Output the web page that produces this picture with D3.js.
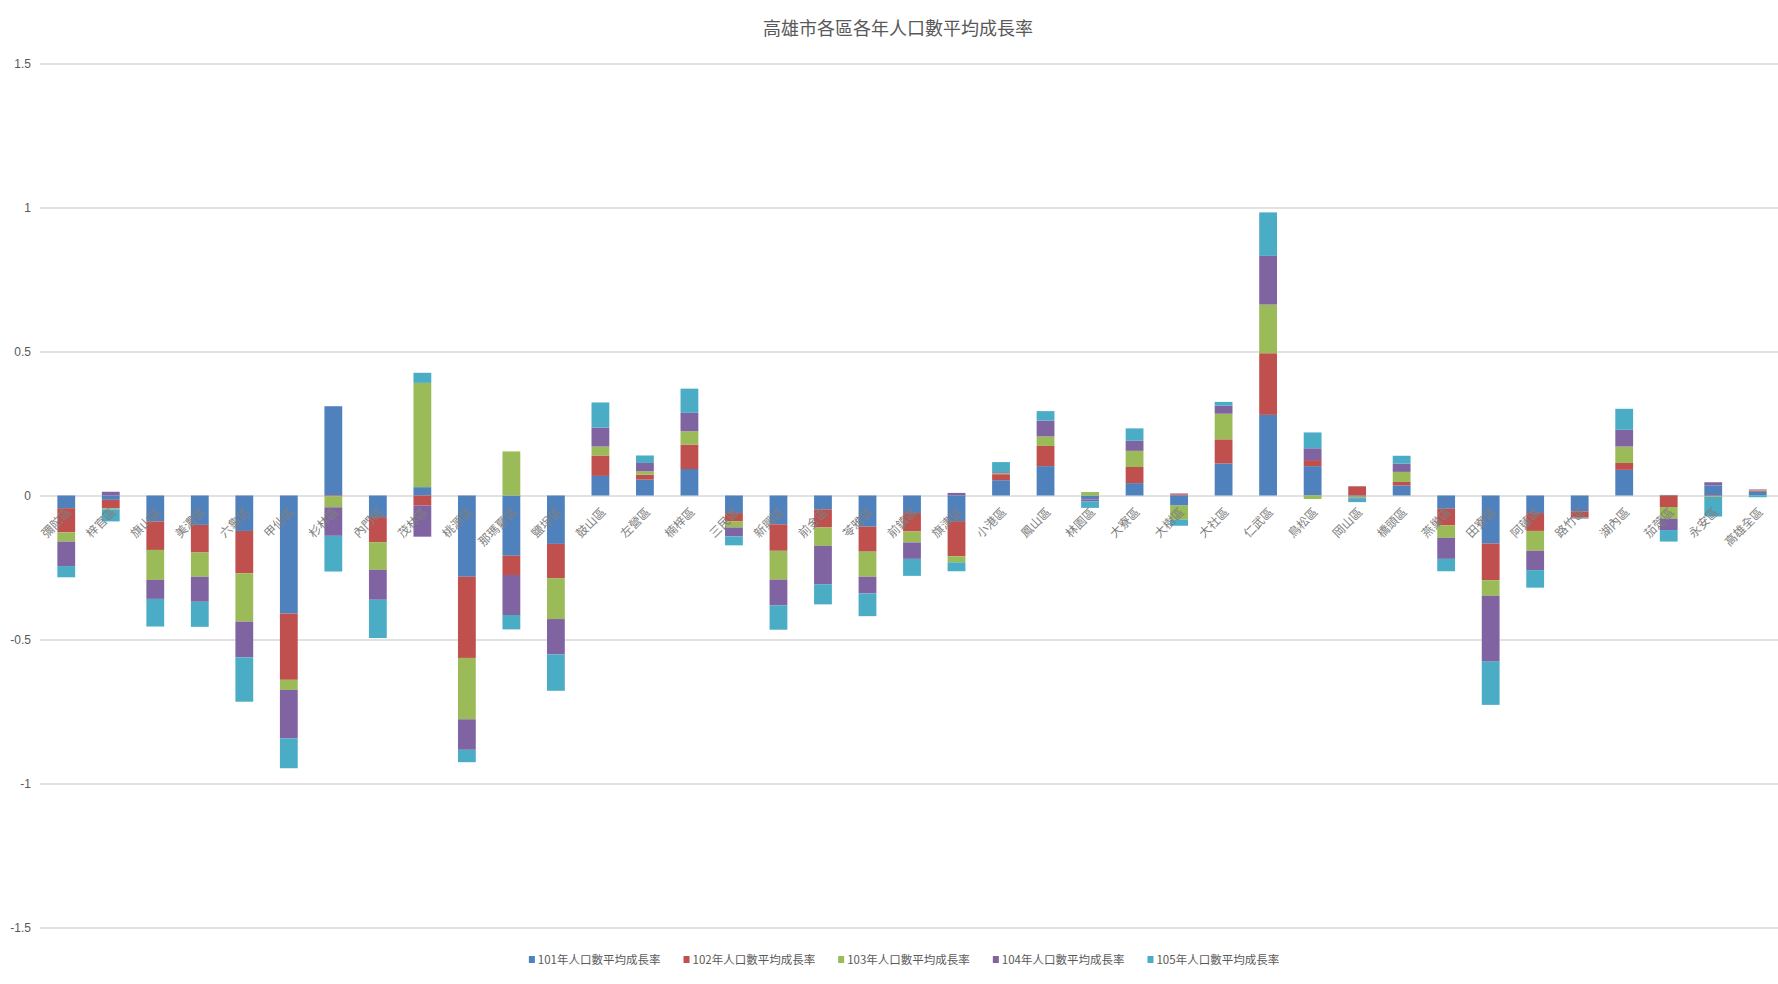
<!DOCTYPE html>
<meta charset="utf-8">
<style>
body { margin: 0; background: #fff; }
svg { font-family: "Noto Sans CJK TC", "Noto Sans", sans-serif; }
.title { font-size: 18px; fill: #595959; text-anchor: middle; }
.axis text { font-size: 12px; fill: #595959; }
.axis .domain { display: none; }
.axis line { stroke: #d9d9d9; stroke-width: 1.5px; }
.cat { font-size: 12px; fill: #7f7f7f; text-anchor: end; }
.legend text { font-size: 11.5px; fill: #595959; }
</style>
<svg width="1778" height="984"></svg>
<script src="https://d3js.org/d3.v7.min.js"></script>
<script>

var categories = ["彌陀區","梓官區","旗山區","美濃區","六龜區","甲仙區","杉林區","內門區","茂林區","桃源區",
  "那瑪夏區","鹽埕區","鼓山區","左營區","楠梓區","三民區","新興區","前金區","苓雅區","前鎮區",
  "旗津區","小港區","鳳山區","林園區","大寮區","大樹區","大社區","仁武區","鳥松區","岡山區",
  "橋頭區","燕巢區","田寮區","阿蓮區","路竹區","湖內區","茄萣區","永安區","高雄全區"];

var seriesNames = ["101年人口數平均成長率","102年人口數平均成長率","103年人口數平均成長率","104年人口數平均成長率","105年人口數平均成長率"];

var growth101 = [-0.044,-0.015,-0.090,-0.102,-0.123,-0.410,0.310,-0.075,0.029,-0.282,
  -0.209,-0.168,0.068,0.055,0.092,-0.061,-0.100,-0.048,-0.108,-0.061,
  -0.089,0.053,0.102,-0.012,0.043,-0.035,0.111,0.280,0.102,-0.004,
  0.035,-0.046,-0.167,-0.061,-0.055,0.089,0.002,0.035,0.013];

var growth102 = [-0.084,-0.030,-0.099,-0.096,-0.147,-0.230,-0.003,-0.087,-0.035,-0.282,
  -0.067,-0.119,0.071,0.017,0.085,-0.029,-0.092,-0.063,-0.087,-0.064,
  -0.122,0.021,0.070,-0.002,0.056,0.004,0.084,0.214,0.021,0.032,
  0.012,-0.058,-0.127,-0.062,-0.022,0.024,-0.040,-0.003,0.003];

var growth103 = [-0.032,-0.003,-0.104,-0.084,-0.168,-0.035,-0.038,-0.096,0.362,-0.213,
  0.153,-0.142,0.031,0.012,0.046,-0.021,-0.100,-0.064,-0.087,-0.038,
  -0.021,0.003,0.033,0.012,0.056,-0.049,0.089,0.169,-0.012,-0.004,
  0.035,-0.043,-0.054,-0.069,-0.002,0.057,-0.040,-0.002,0.002];

var growth104 = [-0.085,0.013,-0.066,-0.087,-0.124,-0.168,-0.099,-0.104,-0.108,-0.106,
  -0.139,-0.123,0.066,0.029,0.064,-0.031,-0.089,-0.133,-0.058,-0.057,
  0.009,0.004,0.055,-0.006,0.035,0.003,0.028,0.169,0.041,-0.003,
  0.029,-0.073,-0.229,-0.067,-0.001,0.058,-0.040,0.011,0.003];

var growth105 = [-0.039,-0.042,-0.096,-0.087,-0.154,-0.104,-0.124,-0.133,0.035,-0.043,
  -0.050,-0.126,0.087,0.026,0.084,-0.031,-0.085,-0.070,-0.079,-0.059,
  -0.031,0.035,0.033,-0.023,0.043,-0.021,0.013,0.151,0.055,-0.012,
  0.027,-0.043,-0.150,-0.061,-0.001,0.073,-0.040,-0.068,-0.006];

var yTicks = [-1.5, -1, -0.5, 0, 0.5, 1, 1.5];

var colors = ["#4f81bd", "#c0504d", "#9bbb59", "#8064a2", "#4bacc6"];

var allSeries = [growth101, growth102, growth103, growth104, growth105];

// one row per district for d3.stack
var rows = categories.map(function(c, i) {
  var r = { name: c };
  seriesNames.forEach(function(s, j) { r[s] = allSeries[j][i]; });
  return r;
});

var svg = d3.select("svg"),
    width = +svg.attr("width"),
    height = +svg.attr("height");

var x = d3.scaleBand()
    .domain(categories)
    .range([44, 1780])
    .paddingInner(0.6)
    .paddingOuter(0.3);

var y = d3.scaleLinear()
    .domain([-1.5, 1.5])
    .range([927.5, 63.5]);

var color = d3.scaleOrdinal().domain(seriesNames).range(colors);

svg.append("text")
    .attr("class", "title")
    .attr("x", 898)
    .attr("y", 35)
    .text("高雄市各區各年人口數平均成長率");

svg.append("g")
    .attr("class", "axis")
    .attr("transform", "translate(40,0)")
    .call(d3.axisLeft(y)
      .tickValues(yTicks)
      .tickSize(-(width - 40))
      .tickPadding(9)
      .tickFormat(function(d) { return String(d); }));

var stacked = d3.stack()
    .keys(seriesNames)
    .offset(d3.stackOffsetDiverging)(rows);

svg.append("g").selectAll("g")
  .data(stacked)
  .enter().append("g")
    .attr("fill", function(d) { return color(d.key); })
  .selectAll("rect")
  .data(function(d) { return d; })
  .enter().append("rect")
    .attr("x", function(d) { return x(d.data.name); })
    .attr("width", x.bandwidth())
    .attr("y", function(d) { return y(Math.max(d[0], d[1])); })
    .attr("height", function(d) { return Math.abs(y(d[0]) - y(d[1])); });

svg.append("g").selectAll("text")
  .data(categories)
  .enter().append("text")
    .attr("class", "cat")
    .attr("transform", function(d) {
      return "translate(" + (x(d) + x.bandwidth() / 2 + 6) + ",513) rotate(-45)";
    })
    .text(function(d) { return d; });

// legend, centred under the plot
var legend = svg.append("g").attr("class", "legend");
var item = legend.selectAll("g")
  .data(seriesNames)
  .enter().append("g");

item.append("rect")
    .attr("width", 6)
    .attr("height", 7)
    .attr("y", -4)
    .attr("fill", function(d) { return color(d); });

item.append("text")
    .attr("x", 9)
    .attr("dy", "0.35em")
    .text(function(d) { return d; });

var pos = 0, offsets = [];
item.each(function() {
  offsets.push(pos);
  pos += 9 + d3.select(this).select("text").node().getComputedTextLength() + 23;
});
pos -= 23;
item.attr("transform", function(d, i) { return "translate(" + offsets[i] + ",0)"; });
legend.attr("transform", "translate(" + (904 - pos / 2) + ",960)");

</script>
